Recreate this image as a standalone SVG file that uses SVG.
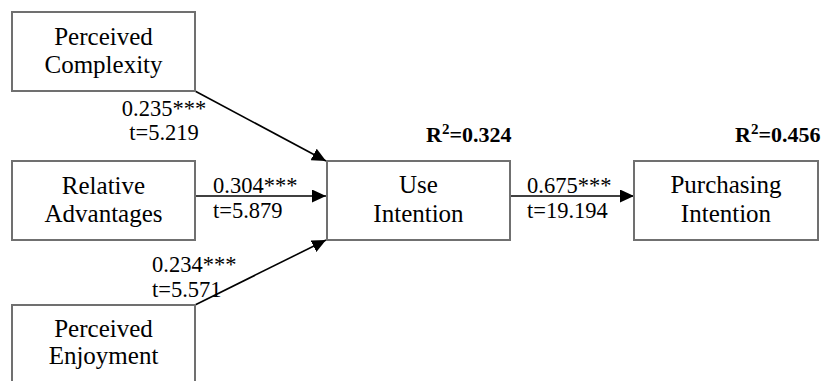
<svg xmlns="http://www.w3.org/2000/svg" width="825" height="381" viewBox="0 0 825 381">
<style>
.box{fill:#fff;stroke:#707070;stroke-width:2}
.lbl{font-family:"Liberation Serif","Times New Roman",serif;font-size:25px;fill:#000;text-anchor:middle}
.el{font-family:"Liberation Serif","Times New Roman",serif;font-size:22.5px;fill:#000}
.r2{font-family:"Liberation Serif","Times New Roman",serif;font-size:22px;font-weight:bold;fill:#000}
.conn{stroke:#000;stroke-width:1.6;fill:none;marker-end:url(#ah)}
</style>
<defs>
<marker id="ah" markerUnits="userSpaceOnUse" markerWidth="15" markerHeight="13" refX="14" refY="6.5" orient="auto">
<path d="M0,0 L14,6.5 L0,13 z" fill="#000"/>
</marker>
</defs>
<rect width="825" height="381" fill="#fff"/>
<g id="connectors">
<line class="conn" x1="195" y1="91" x2="326" y2="161"/>
<line class="conn" x1="195" y1="196" x2="326" y2="196"/>
<line class="conn" x1="195" y1="305" x2="326" y2="240"/>
<line class="conn" x1="510" y1="196" x2="634" y2="196"/>
</g>
<g id="node-perceived-complexity">
<rect class="box" x="12" y="12" width="183" height="79"/>
<text class="lbl" x="103.5" y="45">Perceived</text>
<text class="lbl" x="103.5" y="73">Complexity</text>
</g>
<g id="node-relative-advantages">
<rect class="box" x="12" y="161" width="183" height="79"/>
<text class="lbl" x="103.5" y="194">Relative</text>
<text class="lbl" x="103.5" y="222">Advantages</text>
</g>
<g id="node-perceived-enjoyment">
<rect class="box" x="12" y="305" width="183" height="90"/>
<text class="lbl" x="103.5" y="337">Perceived</text>
<text class="lbl" x="103.5" y="364">Enjoyment</text>
</g>
<g id="node-use-intention">
<rect class="box" x="327" y="161" width="183" height="79"/>
<text class="lbl" x="418.5" y="193">Use</text>
<text class="lbl" x="418.5" y="222">Intention</text>
</g>
<g id="node-purchasing-intention">
<rect class="box" x="634" y="161" width="184" height="79"/>
<text class="lbl" x="726" y="193">Purchasing</text>
<text class="lbl" x="726" y="222">Intention</text>
</g>
<g id="edge-labels">
<text class="el" x="164" y="116" text-anchor="middle">0.235***</text>
<text class="el" x="164" y="140" text-anchor="middle">t=5.219</text>
<text class="el" x="213" y="193">0.304***</text>
<text class="el" x="213" y="218">t=5.879</text>
<text class="el" x="152" y="272">0.234***</text>
<text class="el" x="152" y="297">t=5.571</text>
<text class="el" x="527" y="193">0.675***</text>
<text class="el" x="527" y="218">t=19.194</text>
</g>
<g id="r2-labels">
<text class="r2" x="426" y="142">R<tspan font-size="15" dy="-8">2</tspan><tspan dy="8">=0.324</tspan></text>
<text class="r2" x="735" y="142">R<tspan font-size="15" dy="-8">2</tspan><tspan dy="8">=0.456</tspan></text>
</g>
</svg>
